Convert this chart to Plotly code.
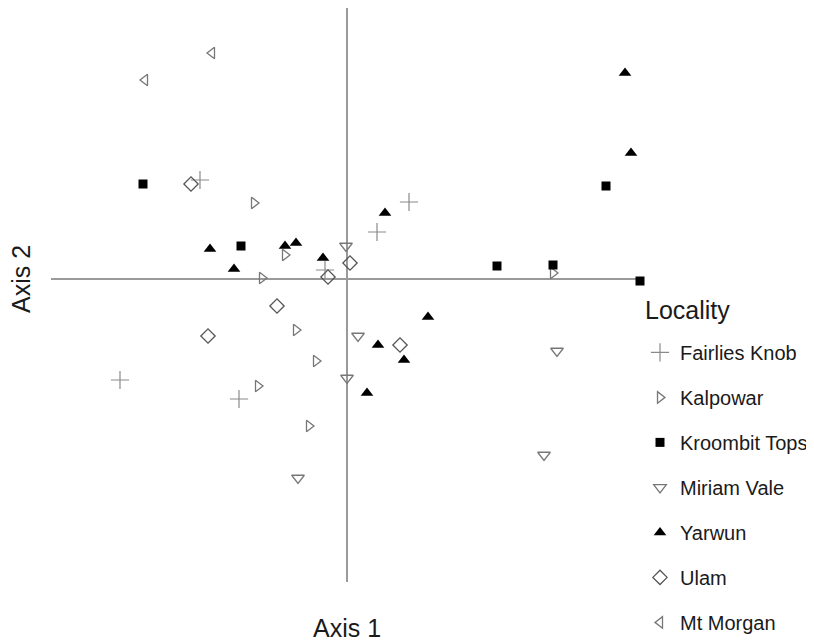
import plotly.graph_objects as go

# Ordination scores (arbitrary units)
fk_x = [-1.47, 0.62, 0.30, -0.22, -2.27, -1.08]
fk_y = [0.99, 0.77, 0.47, 0.09, -1.01, -1.20]

kal_x = [-0.93, -0.62, -0.85, -0.51, -0.31, -0.89, -0.38, 2.06]
kal_y = [0.76, 0.24, 0.01, -0.51, -0.82, -1.07, -1.47, 0.06]

kt_x = [-2.04, -1.06, 1.50, 2.06, 2.59, 2.93]
kt_y = [0.95, 0.33, 0.13, 0.14, 0.93, -0.02]

mv_x = [-0.01, 0.11, 0.00, -0.49, 2.10, 1.97]
mv_y = [0.33, -0.57, -0.99, -1.99, -0.72, -1.76]

yar_x = [-1.37, -1.13, -0.62, -0.51, -0.24, 0.38, 2.78, 2.84, 0.81, 0.31, 0.57, 0.20]
yar_y = [0.30, 0.10, 0.33, 0.36, 0.21, 0.66, 2.06, 1.26, -0.38, -0.66, -0.81, -1.14]

ulam_x = [-1.56, 0.03, -0.19, -0.70, -1.39, 0.53]
ulam_y = [0.95, 0.16, 0.02, -0.27, -0.57, -0.66]

mm_x = [-1.35, -2.02]
mm_y = [2.26, 1.99]

localities = ["Fairlies Knob", "Kalpowar", "Kroombit Tops", "Miriam Vale",
              "Yarwun", "Ulam", "Mt Morgan"]

series = [
    (fk_x, fk_y, "cross-thin-open", "#8a8a8a", 13, 1.2),
    (kal_x, kal_y, "triangle-right-open", "#777777", 10, 1.3),
    (kt_x, kt_y, "square", "#000000", 9, 0),
    (mv_x, mv_y, "triangle-down-open", "#777777", 11, 1.3),
    (yar_x, yar_y, "triangle-up", "#000000", 11, 0),
    (ulam_x, ulam_y, "diamond-open", "#555555", 11, 1.3),
    (mm_x, mm_y, "triangle-left-open", "#777777", 10, 1.3),
]

fig = go.Figure()
for name, (xs, ys, sym, col, size, lw) in zip(localities, series):
    fig.add_trace(go.Scatter(
        x=xs, y=ys, mode="markers", name=name, legendgroup=name,
        cliponaxis=False,
        marker=dict(symbol=sym, color=col, size=size,
                    line=dict(color=col, width=lw)),
    ))

axis_common = dict(showgrid=False, showticklabels=False, ticks="",
                   showline=False, zeroline=True, zerolinecolor="#9a9a9a",
                   zerolinewidth=1.5, fixedrange=True)

# the page adds an 8px body margin; the figure is sized so that it fits the window
fig.update_layout(
    width=806, height=635, autosize=False,
    margin=dict(l=43, r=174, t=0, b=61),
    paper_bgcolor="white", plot_bgcolor="white",
    font=dict(family="Liberation Sans, Arial, sans-serif", color="#1a1a1a", size=20),
    xaxis=dict(range=[-2.96, 2.93], **axis_common),
    yaxis=dict(range=[-3.03, 2.71], **axis_common),
    showlegend=True,
    legend=dict(
        x=1.0, xanchor="left", y=0.434, yanchor="top",
        font=dict(size=20), tracegroupgap=16, traceorder="grouped",
        bgcolor="rgba(0,0,0,0)",
    ),
    annotations=[
        dict(text="Axis 1", xref="x", yref="paper", x=0, y=-0.080,
             showarrow=False, font=dict(size=25), xanchor="center", yanchor="middle"),
        dict(text="Axis 2", xref="paper", yref="y", x=-0.051, y=0,
             showarrow=False, font=dict(size=25), textangle=-90,
             xanchor="center", yanchor="middle"),
        dict(text="Locality", xref="paper", yref="paper", x=1.005,
             y=0.474, showarrow=False, font=dict(size=25),
             xanchor="left", yanchor="middle"),
    ],
)

fig.write_html("out.html", config={"displayModeBar": False})
